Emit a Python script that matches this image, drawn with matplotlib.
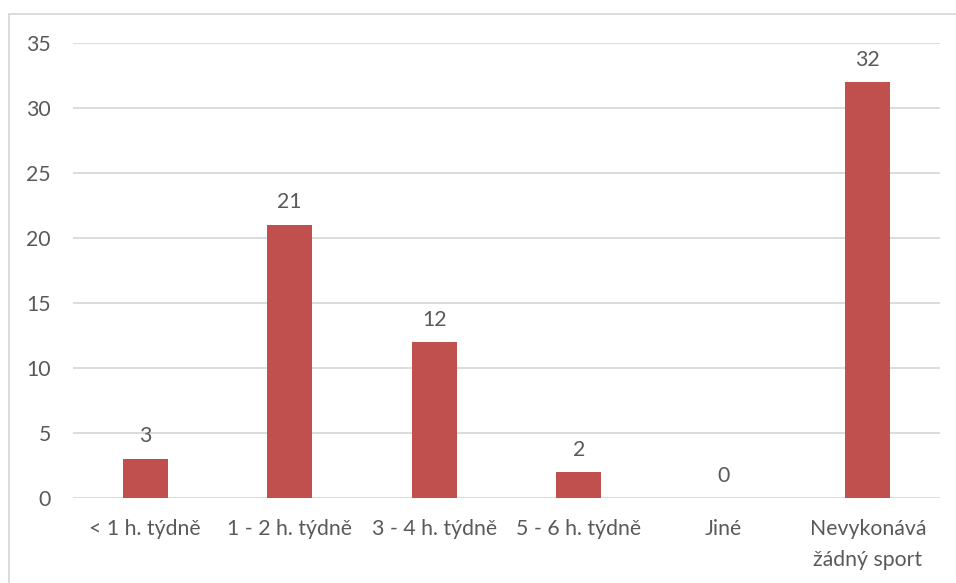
import matplotlib
matplotlib.use("Agg")
import matplotlib.pyplot as plt
from matplotlib.patches import Rectangle

categories = ["< 1 h. týdně", "1 - 2 h. týdně", "3 - 4 h. týdně", "5 - 6 h. týdně",
              "Jiné", "Nevykonává\nžádný sport"]
values = [3, 21, 12, 2, 0, 32]
y_ticks = [0, 5, 10, 15, 20, 25, 30, 35]

W, H = 956, 583
fig = plt.figure(figsize=(W / 100, H / 100), dpi=100)
plt.rcParams["font.family"] = ["Lato", "DejaVu Sans"]

text_color = "#595959"
grid_color = "#D9D9D9"
bar_color = "#C0504D"
fs = 15.3

# chart area outline (open to the right and bottom)
fig.patches.append(Rectangle((9 / W, -0.5), 2.0, 1.5 - 14 / H,
                             transform=fig.transFigure, fill=False,
                             edgecolor=grid_color, linewidth=1.3, zorder=0))

ax = fig.add_axes([73 / W, 1 - 498 / H, (940 - 73) / W, (498 - 43) / H])
x = range(len(categories))
bars = ax.bar(x, values, width=0.31, color=bar_color, zorder=3)

ax.set_xlim(-0.5, len(categories) - 0.5)
ax.set_ylim(0, 35)
ax.set_yticks(y_ticks)
ax.set_yticklabels([str(v) for v in y_ticks])
ax.set_xticks(list(x))
ax.set_xticklabels(categories, linespacing=1.7, va="top")

ax.grid(axis="y", color=grid_color, linewidth=1.3, zorder=0)
for s in ax.spines.values():
    s.set_visible(False)
ax.tick_params(axis="both", length=0, colors=text_color, labelsize=fs)
ax.tick_params(axis="x", pad=15)
ax.tick_params(axis="y", pad=16)

for b, v in zip(bars, values):
    ax.annotate(str(v), (b.get_x() + b.get_width() / 2, v),
                xytext=(0, 9), textcoords="offset points",
                ha="center", va="bottom", fontsize=fs, color=text_color)

fig.savefig("out.png", dpi=100)
